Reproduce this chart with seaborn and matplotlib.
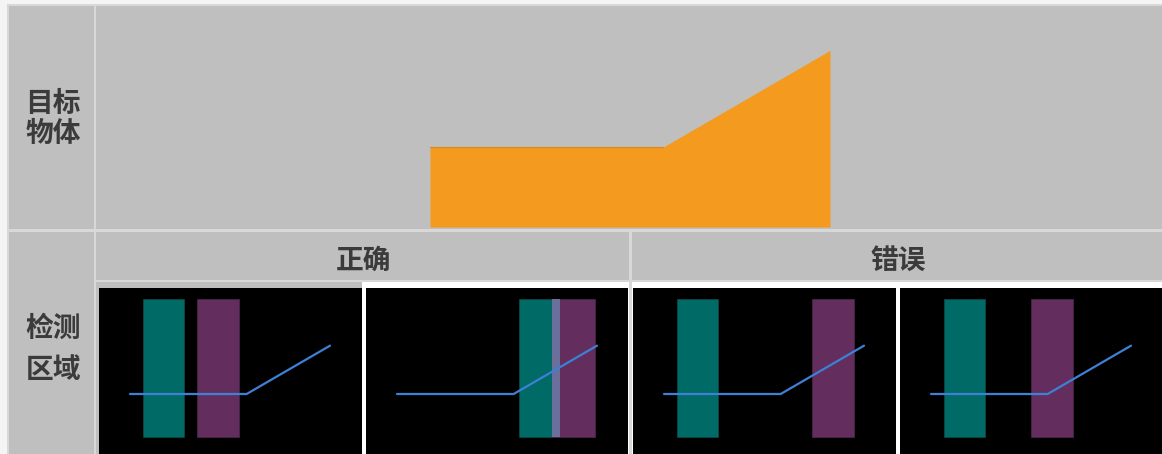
import matplotlib
matplotlib.use("Agg")
import matplotlib.pyplot as plt
from matplotlib.patches import Rectangle
import seaborn as sns

sns.set_theme(style="white")
plt.rcParams['font.family'] = ['Noto Sans CJK SC', 'DejaVu Sans']

# ---------------- data ----------------
row_labels = ["目标\n物体", "检测\n区域"]
group_labels = ["正确", "错误"]

# object top profile (x along object, height)
profile_x = [0, 7, 12]
profile_y = [2.4, 2.4, 5.3]

# detection regions per panel (start positions along object axis)
teal_start = [0.76, 7.30, 0.76, 0.75]
purple_start = [4.00, 9.32, 8.88, 5.98]
teal_width = 2.48
purple_width = 2.54
region_bottom = -0.15
region_top = 8.10

# ---------------- styling ----------------
W, H = 1162, 454
GRID = "#d8d8d8"
CELL = "#bfbfbf"
TEXT = "#3b3b3b"
ORANGE = "#f39a1f"
TEAL = "#006a66"
PURPLE = "#632e5e"
OVERLAP = "#6a6f9c"
LINE = "#3d80d6"

fig = plt.figure(figsize=(W / 100, H / 100), dpi=100)
fig.patch.set_facecolor("#f4f4f4")

# background layout axes in pixel coordinates
bg = fig.add_axes([0, 0, 1, 1])
bg.set_xlim(0, W)
bg.set_ylim(H, 0)
bg.axis("off")

def rect(x0, y0, x1, y1, color, z=0):
    bg.add_patch(Rectangle((x0, y0), x1 - x0, y1 - y0, facecolor=color,
                           edgecolor="none", zorder=z))

rect(7, 4, W, H, GRID, 0)
rect(9, 6, W, H, CELL, 1)
rect(362, 282, W, H, "white", 2)
# grid lines
rect(94, 6, 96, H, GRID, 3)
rect(9, 229, W, 232, GRID, 3)
rect(96, 280, W, 282, GRID, 3)
rect(629, 232, 632, H, GRID, 3)

# texts
bg.text(53, 119, row_labels[0], ha="center", va="center", fontsize=20,
        fontweight="bold", color=TEXT, linespacing=1.1, zorder=5)
bg.text(53, 349, row_labels[1], ha="center", va="center", fontsize=20,
        fontweight="bold", color=TEXT, linespacing=1.6, zorder=5)
bg.text(364, 261, group_labels[0], ha="center", va="center", fontsize=20,
        fontweight="bold", color=TEXT, zorder=5)
bg.text(898, 261, group_labels[1], ha="center", va="center", fontsize=20,
        fontweight="bold", color=TEXT, zorder=5)

def px_axes(x0, y0, x1, y1):
    return fig.add_axes([x0 / W, 1 - y1 / H, (x1 - x0) / W, (y1 - y0) / H])

# ---------------- top object ----------------
top = px_axes(96, 6, W, 229)
s = 400 / (profile_x[-1] - profile_x[0])  # px per unit
top.set_xlim(-(430 - 96) / s, profile_x[-1] + (W - 830) / s)
top.set_ylim(-2 / s, (227 - 6) / s)
top.fill_between(profile_x, 0, profile_y, color=ORANGE, linewidth=0)
sns.lineplot(x=profile_x[:2], y=profile_y[:2], ax=top, color="#dd881c",
             linewidth=0.8)
top.axis("off")

# ---------------- detection panels ----------------
panel_px = [(99, 362), (366, 628), (633, 896), (900, W + 1)]
sb = s / 2
for i, (x0, x1) in enumerate(panel_px):
    ax = px_axes(x0, 288, x1, H)
    ax.set_facecolor("black")
    ax.set_xlim(-31 / sb, (x1 - x0 - 31) / sb)
    ax.set_ylim(profile_y[0] - (H - 394) / sb, profile_y[0] + (394 - 288) / sb)
    ax.bar([teal_start[i]], [region_top - region_bottom], width=teal_width,
           bottom=region_bottom, align="edge", color=TEAL,
           edgecolor="#0c4744", linewidth=0.6, zorder=1)
    ax.bar([purple_start[i]], [region_top - region_bottom], width=purple_width,
           bottom=region_bottom, align="edge", color=PURPLE,
           edgecolor="#4a2446", linewidth=0.6, zorder=1)
    ov0 = max(teal_start[i], purple_start[i])
    ov1 = min(teal_start[i] + teal_width, purple_start[i] + purple_width)
    if ov1 > ov0:
        ax.bar([ov0], [region_top - region_bottom], width=ov1 - ov0,
               bottom=region_bottom, align="edge", color=OVERLAP,
               linewidth=0, zorder=2)
    sns.lineplot(x=profile_x, y=profile_y, ax=ax, color=LINE, linewidth=1.6,
                 zorder=3)
    ax.set_xticks([])
    ax.set_yticks([])
    ax.set_xlabel("")
    ax.set_ylabel("")
    for sp in ax.spines.values():
        sp.set_visible(False)

fig.savefig("out.png", dpi=100, facecolor=fig.get_facecolor())
